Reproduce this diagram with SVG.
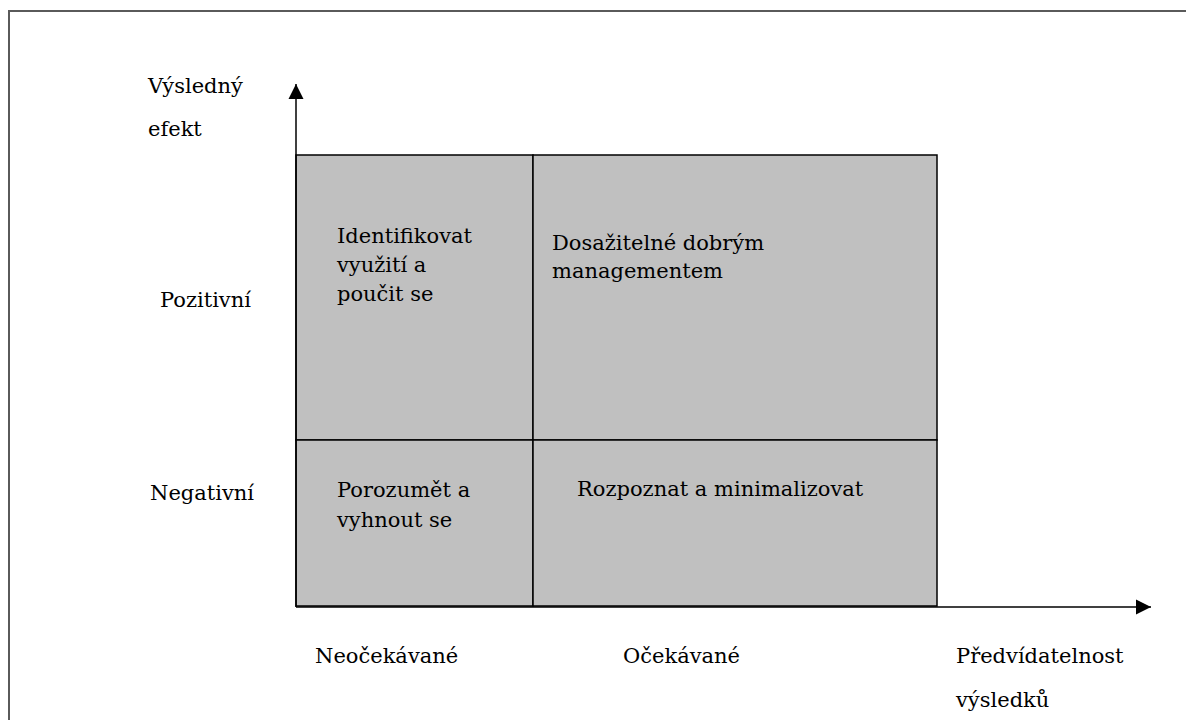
<svg xmlns="http://www.w3.org/2000/svg" width="1186" height="720" viewBox="0 0 1186 720">
  <style>
    .lbl { font-family: 'DejaVu Serif', serif; font-size: 21px; fill: #000; }
    .cell { fill: #c0c0c0; stroke: #000; stroke-width: 1.5; }
    .axis { stroke: #000; stroke-width: 1.5; fill: none; }
    .frame { stroke: #5a5a5a; stroke-width: 2; fill: none; }
  </style>
  <defs>
    <marker id="arrow" markerWidth="16" markerHeight="16" refX="15" refY="8" orient="auto" markerUnits="userSpaceOnUse">
      <path d="M0,0.5 L15,8 L0,15.5 Z" fill="#000"/>
    </marker>
  </defs>

  <rect x="0" y="0" width="1186" height="720" fill="#fff"/>
  <!-- outer frame (open on the right and bottom) -->
  <path class="frame" d="M1186,11 H9 V720"/>

  <!-- quadrants -->
  <g id="q-unexpected-positive">
    <rect class="cell" x="296" y="155" width="237" height="285"/>
    <text class="lbl" x="337" y="243">Identifikovat</text>
    <text class="lbl" x="337" y="272">využití a</text>
    <text class="lbl" x="337" y="301">poučit se</text>
  </g>
  <g id="q-expected-positive">
    <rect class="cell" x="533" y="155" width="404" height="285"/>
    <text class="lbl" x="552" y="250">Dosažitelné dobrým</text>
    <text class="lbl" x="552" y="278">managementem</text>
  </g>
  <g id="q-unexpected-negative">
    <rect class="cell" x="296" y="440" width="237" height="166"/>
    <text class="lbl" x="337" y="497">Porozumět a</text>
    <text class="lbl" x="337" y="527">vyhnout se</text>
  </g>
  <g id="q-expected-negative">
    <rect class="cell" x="533" y="440" width="404" height="166"/>
    <text class="lbl" x="577" y="496">Rozpoznat a minimalizovat</text>
  </g>

  <!-- axes -->
  <g id="connectors">
    <line class="axis" x1="296" y1="607" x2="296" y2="84" marker-end="url(#arrow)"/>
    <line class="axis" x1="296" y1="607" x2="1151" y2="607" marker-end="url(#arrow)"/>
  </g>

  <!-- axis labels -->
  <g id="y-title">
    <text class="lbl" x="148" y="93">Výsledný</text>
    <text class="lbl" x="148" y="136">efekt</text>
  </g>
  <g id="y-positive">
    <text class="lbl" x="160" y="307">Pozitivní</text>
  </g>
  <g id="y-negative">
    <text class="lbl" x="150" y="500">Negativní</text>
  </g>
  <g id="x-unexpected">
    <text class="lbl" x="315" y="663">Neočekávané</text>
  </g>
  <g id="x-expected">
    <text class="lbl" x="623" y="663">Očekávané</text>
  </g>
  <g id="x-title">
    <text class="lbl" x="956" y="663">Předvídatelnost</text>
    <text class="lbl" x="956" y="707">výsledků</text>
  </g>
</svg>
